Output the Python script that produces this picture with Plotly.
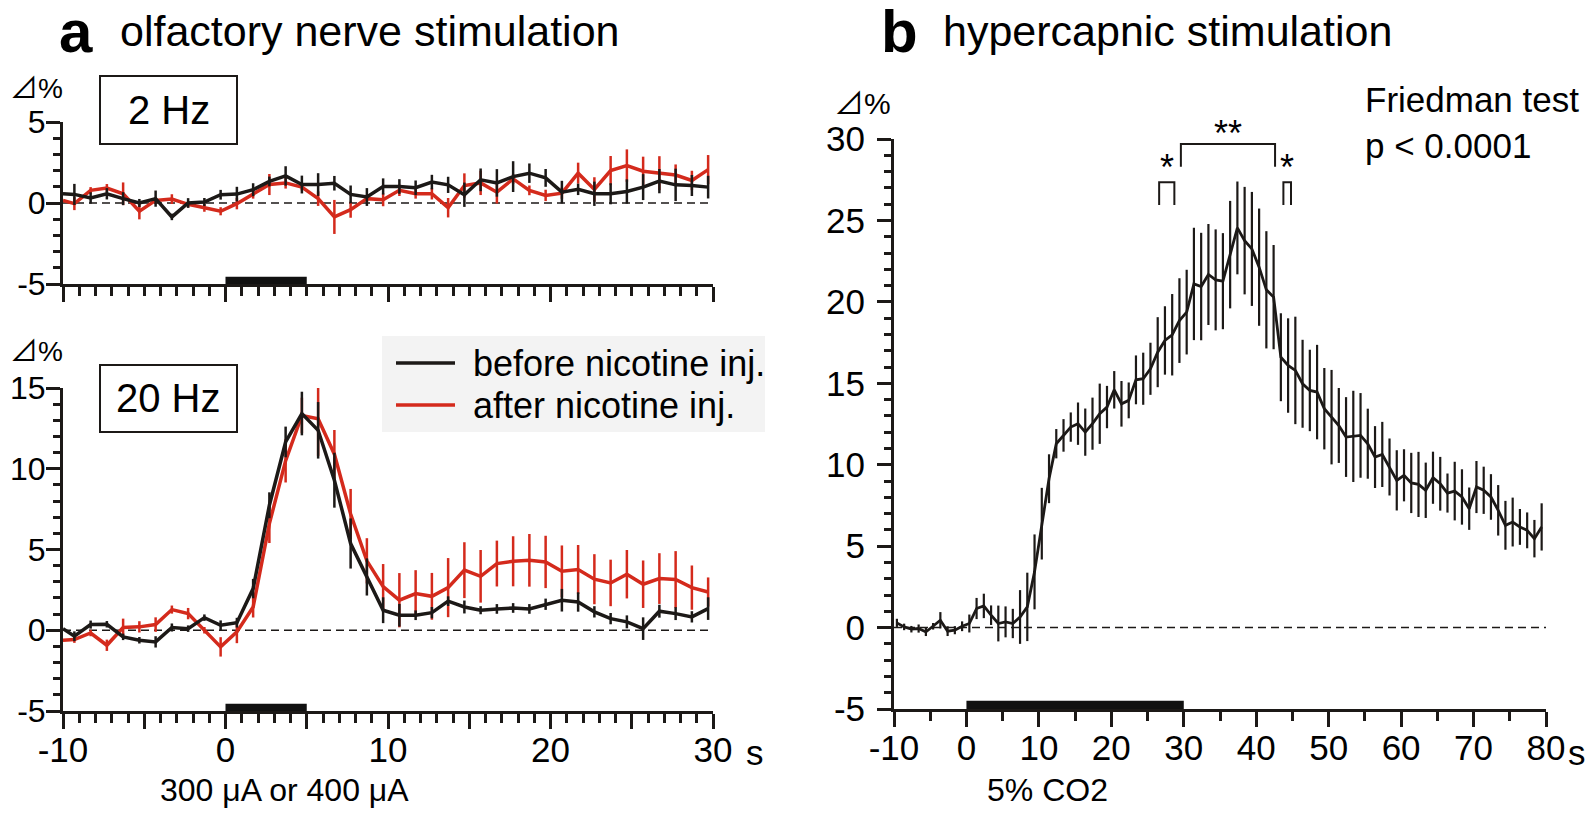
import numpy as np
import plotly.graph_objects as go

# the page adds an 8 px body margin, so the figure is 16 px smaller than the window
OFF = 8
W, H = 1594 - 2 * OFF, 816 - 2 * OFF
BLK = "#1c1917"
RED = "#d42a1c"
FONT = "Liberation Sans, Arial, DejaVu Sans, Noto Sans CJK JP"

# ---- data -------------------------------------------------------------
# panel a: olfactory nerve stimulation (first sample sits on the axis)
t_a = np.concatenate([[-10.0], np.arange(40) - 9.3])

hz2_before = [0.57, 0.53, 0.31, 0.57, 0.27, 0.0, 0.27, -0.86, 0.0, 0.06, 0.51,
              0.55, 0.82, 1.33, 1.67, 1.14, 1.14, 1.22, 0.53, 0.37, 1.02,
              1.02, 0.94, 1.29, 1.12, 0.51, 1.43, 1.24, 1.63, 1.84, 1.55,
              0.67, 0.84, 0.57, 0.57, 0.71, 0.98, 1.35, 1.12, 1.08, 0.98]
hz2_before_err = [0, 0.65, 0.35, 0.35, 0.4, 0.25, 0.5, 0.2, 0.3, 0.25, 0.3,
                  0.45, 0.4, 0.3, 0.6, 0.55, 0.7, 0.45, 0.55, 0.55, 0.5,
                  0.45, 0.45, 0.45, 0.5, 0.75, 0.7, 0.85, 0.95, 0.6, 0.55,
                  0.7, 0.35, 0.75, 0.65, 0.75, 0.8, 0.75, 1.0, 0.65, 0.7]
hz2_after = [0.16, -0.04, 0.78, 0.92, 0.57, -0.51, 0.16, 0.24, -0.08, -0.29, -0.51,
             -0.04, 0.57, 1.14, 1.24, 0.98, 0.27, -0.86, -0.41, 0.27, 0.2,
             0.78, 0.57, 0.57, -0.29, 1.08, 1.24, 0.67, 1.49, 0.78, 0.47,
             0.61, 1.84, 0.84, 2.0, 2.31, 1.96, 1.84, 1.73, 1.39, 2.06]
hz2_after_err = [0, 0.4, 0.2, 0.25, 0.7, 0.5, 0.2, 0.3, 0.2, 0.25, 0.25,
                 0.35, 0.3, 0.65, 0.35, 0.2, 0.45, 1.05, 0.5, 0.25, 0.4,
                 0.35, 0.3, 0.35, 0.6, 0.75, 0.75, 0.7, 0.3, 0.3, 0.35,
                 0.35, 0.65, 0.75, 0.9, 1.0, 0.9, 1.05, 0.65, 0.6, 0.9]

hz20_before = [0.1, -0.37, 0.35, 0.37, -0.41, -0.62, -0.72, 0.17, 0.10, 0.78, 0.31,
               0.47, 2.58, 7.74, 11.66, 13.42, 12.38, 9.29, 5.37, 3.3, 1.24,
               0.93, 0.93, 1.09, 1.8, 1.44, 1.24, 1.32, 1.38, 1.32, 1.61,
               1.86, 1.75, 1.14, 0.72, 0.52, 0.1, 1.18, 1.03, 0.83, 1.34]
hz20_before_err = [0, 0.3, 0.25, 0.2, 0.2, 0.2, 0.35, 0.25, 0.2, 0.2, 0.3,
                   0.3, 0.6, 0.8, 0.95, 1.35, 1.75, 1.7, 1.55, 1.15, 0.8,
                   0.7, 0.3, 0.35, 0.3, 0.4, 0.25, 0.3, 0.3, 0.3, 0.35,
                   0.7, 0.6, 0.35, 0.35, 0.4, 0.7, 0.4, 0.4, 0.35, 0.7]
hz20_after = [-0.62, -0.58, -0.17, -0.93, 0.17, 0.21, 0.35, 1.28, 1.03, 0.0, -1.03,
              -0.1, 1.44, 6.6, 10.5, 13.3, 13.1, 10.9, 7.2, 4.3, 2.7,
              1.86, 2.27, 2.1, 2.64, 3.72, 3.34, 4.13, 4.27, 4.33, 4.23,
              3.65, 3.76, 3.16, 2.93, 3.47, 2.85, 3.2, 3.14, 2.64, 2.37]
hz20_after_err = [0, 0.2, 0.2, 0.35, 0.55, 0.35, 0.45, 0.25, 0.35, 0.2, 0.6,
                  0.7, 0.65, 1.2, 1.35, 1.1, 2.3, 1.5, 1.55, 1.4, 1.4,
                  1.68, 1.45, 1.45, 1.83, 1.73, 1.63, 1.42, 1.55, 1.63, 1.62,
                  1.6, 1.52, 1.55, 1.44, 1.5, 1.47, 1.57, 1.76, 1.37, 0.9]

# panel b: hypercapnic stimulation
t_b = np.arange(90) - 9.6
co2 = [0.29, 0.04, -0.1, -0.06, -0.27, 0.08, 0.45, -0.22, -0.16, 0.08,
       0.25, 1.17, 1.33, 0.76, 0.25, 0.35, 0.25, 0.65, 1.27, 3.42,
       6.38, 9.14, 11.29, 11.8, 12.31, 12.52, 12.0, 12.52, 13.13, 13.54,
       14.6, 13.74, 13.95, 15.21, 15.28, 15.89, 16.91, 17.63, 17.98, 18.85,
       19.37, 21.1, 20.94, 21.68, 21.35, 21.27, 22.9, 24.54, 23.76, 23.25,
       22.13, 20.74, 20.29, 16.6, 16.09, 15.79, 14.97, 14.56, 14.46, 13.44,
       12.92, 12.41, 11.7, 11.74, 11.8, 11.29, 10.47, 10.63, 9.86, 9.04,
       9.35, 8.88, 8.79, 8.43, 9.2, 8.83, 8.26, 8.38, 8.02, 7.3,
       8.63, 8.43, 8.02, 7.2, 6.28, 6.48, 6.18, 5.97, 5.46, 6.18]
co2_err = [0.25, 0.2, 0.2, 0.25, 0.25, 0.2, 0.5, 0.3, 0.25, 0.3,
           0.55, 0.65, 0.75, 0.6, 1.1, 0.95, 0.9, 1.65, 2.1, 2.3,
           2.2, 1.5, 0.9, 1.0, 0.9, 1.3, 1.45, 1.6, 1.85, 1.3,
           1.15, 1.4, 1.1, 1.5, 1.6, 1.6, 2.15, 2.1, 2.5, 2.6,
           2.6, 3.45, 3.3, 3.1, 3.1, 2.95, 3.3, 2.85, 3.3, 3.5,
           3.6, 3.6, 3.2, 2.7, 2.9, 3.3, 2.7, 2.5, 2.9, 2.5,
           2.9, 2.3, 2.45, 2.8, 2.6, 2.15, 1.9, 2.0, 1.75, 1.85,
           1.6, 1.85, 2.0, 1.7, 1.6, 1.65, 1.2, 1.8, 1.7, 1.3,
           1.6, 1.45, 1.4, 1.55, 1.5, 1.5, 1.1, 1.1, 1.15, 1.45]

stim_a = [0, 5]       # stimulation period (s)
stim_b = [0, 30]      # 5% CO2 period (s)
sig_brackets = [(26.6, 28.7, 25.95, 27.35), (29.6, 42.6, 28.3, 29.7), (43.75, 44.8, 25.95, 27.35)]
sig_labels = [(27.65, 168, "*"), (36.1, 133, "**"), (44.3, 168, "*")]  # y in window px


def PX(x):
    return (x - OFF) / W


def PY(y):
    return 1 - (y - OFF) / H


def P(x, y):
    return PX(x), PY(y)


fig = go.Figure()


def series(t, y, e, color, xa, ya, lw=3.5, ew=2.5):
    fig.add_trace(go.Scatter(
        x=t, y=y, mode="lines", xaxis=xa, yaxis=ya, showlegend=False,
        line=dict(color=color, width=lw),
        error_y=dict(type="data", array=e, visible=True, width=0,
                     thickness=ew, color=color)))


series(t_a, hz2_after, hz2_after_err, RED, "x", "y")
series(t_a, hz2_before, hz2_before_err, BLK, "x", "y")
series(t_a, hz20_after, hz20_after_err, RED, "x2", "y2")
series(t_a, hz20_before, hz20_before_err, BLK, "x2", "y2")
series(t_b, co2, co2_err, BLK, "x3", "y3", lw=2.8, ew=2.2)

tick_font = dict(family=FONT, size=35, color="black")


def xaxis(dom, anchor, rng, major, minor, labels=True):
    vals = list(np.arange(rng[0], rng[1] + 0.01, major))
    text = [f"{v:g}" if v % 10 == 0 else "" for v in vals]
    return dict(domain=dom, anchor=anchor, range=rng, showgrid=False, zeroline=False,
                automargin=False, showline=True, linecolor=BLK, linewidth=3,
                ticks="outside", ticklen=15, tickwidth=3, tickcolor=BLK,
                tickmode="array", tickvals=vals, ticktext=text,
                showticklabels=labels, tickfont=tick_font, ticklabelstandoff=-9,
                minor=dict(ticks="outside", ticklen=9, tickwidth=2.5, tickcolor=BLK,
                           tickmode="linear", tick0=0, dtick=minor, showgrid=False))


def yaxis(dom, anchor, rng, standoff, size=35):
    vals = list(np.arange(rng[0], rng[1] + 0.01, 5))
    return dict(domain=dom, anchor=anchor, range=rng, showgrid=False, zeroline=False,
                automargin=False, showline=True, linecolor=BLK, linewidth=3,
                ticks="outside", ticklen=14, tickwidth=3, tickcolor=BLK,
                tickmode="array", tickvals=vals, ticktext=[f"{v:g}" for v in vals],
                tickfont=dict(family=FONT, size=size, color="black"), ticklabelstandoff=standoff,
                minor=dict(ticks="outside", ticklen=7, tickwidth=2.5, tickcolor=BLK,
                           tickmode="linear", tick0=0, dtick=1, showgrid=False))


xa_dom = [PX(63), PX(713)]
xb_dom = [PX(894), PX(1546)]
fig.update_layout(
    width=W, height=H, margin=dict(l=0, r=0, t=0, b=0, pad=0, autoexpand=False),
    paper_bgcolor="white", plot_bgcolor="rgba(0,0,0,0)",
    font=dict(family=FONT, color="black"), showlegend=False,
    xaxis=xaxis(xa_dom, "y", [-10, 30], 5, 1, labels=False),
    yaxis=yaxis([PY(284), PY(122)], "x", [-5, 5], -6, 32),
    xaxis2=xaxis(xa_dom, "y2", [-10, 30], 5, 1),
    yaxis2=yaxis([PY(711), PY(388)], "x2", [-5, 15], -6, 32),
    xaxis3=xaxis(xb_dom, "y3", [-10, 80], 10, 5),
    yaxis3=yaxis([PY(709), PY(139)], "x3", [-5, 30], 5),
)

shapes = []
# zero lines and stimulus bars
for xa, ya, rng, stim, h in [("x", "y", [-10, 30], stim_a, 0.45), ("x2", "y2", [-10, 30], stim_a, 0.45),
                             ("x3", "y3", [-10, 80], stim_b, 0.5)]:
    shapes.append(dict(type="line", xref=xa, yref=ya, x0=rng[0], x1=rng[1], y0=0, y1=0,
                       line=dict(color=BLK, width=1.6, dash="8px,5px"), layer="below"))
    shapes.append(dict(type="rect", xref=xa, yref=ya, x0=stim[0], x1=stim[1], y0=-5, y1=-5 + h,
                       fillcolor="#111111", line=dict(width=0)))
# significance brackets
for x0, x1, yb, yt in sig_brackets:
    shapes.append(dict(type="path", xref="x3", yref="y3",
                       path=f"M {x0},{yb} L {x0},{yt} L {x1},{yt} L {x1},{yb}",
                       line=dict(color=BLK, width=2)))
# frequency boxes
for (x0, y0, x1, y1) in [(100, 76, 237, 144), (100, 365, 237, 432)]:
    a0, b0 = P(x0, y0)
    a1, b1 = P(x1, y1)
    shapes.append(dict(type="rect", xref="paper", yref="paper", x0=a0, x1=a1, y0=b1, y1=b0,
                       line=dict(color=BLK, width=2)))
# legend background and samples
a0, b0 = P(382, 336)
a1, b1 = P(765, 432)
shapes.append(dict(type="rect", xref="paper", yref="paper", x0=a0, x1=a1, y0=b1, y1=b0,
                   fillcolor="#f3f3f3", line=dict(width=0), layer="below"))
for yy, c in [(363, BLK), (405, RED)]:
    a0, b0 = P(396, yy)
    a1, _ = P(455, yy)
    shapes.append(dict(type="line", xref="paper", yref="paper", x0=a0, x1=a1, y0=b0, y1=b0,
                       line=dict(color=c, width=3.5)))
fig.update_layout(shapes=shapes)

ann = []


def txt(x, y, s, size, xanchor="center", bold=False):
    a, b = P(x, y)
    ann.append(dict(x=a, y=b, xref="paper", yref="paper", text=f"<b>{s}</b>" if bold else s,
                    showarrow=False, xanchor=xanchor, yanchor="middle",
                    font=dict(family=FONT, size=size, color="black")))


DELTA = '<span style="font-family:Noto Sans CJK JP">⊿</span>%'
txt(76, 31, "a", 60, bold=True)
txt(118, 31, "olfactory nerve stimulation", 43, xanchor="left")
txt(899, 31, "b", 60, bold=True)
txt(941, 31, "hypercapnic stimulation", 43, xanchor="left")
txt(65, 86, DELTA, 28, xanchor="right")
txt(65, 349, DELTA, 28, xanchor="right")
txt(893, 101, DELTA, 30, xanchor="right")
txt(168.5, 110, "2 Hz", 40)
txt(168.5, 398.5, "20 Hz", 40)
txt(471, 363, "before nicotine inj.", 36, xanchor="left")
txt(471, 405, "after nicotine inj.", 36, xanchor="left")
txt(1363, 99, "Friedman test", 35, xanchor="left")
txt(1363, 145, "p < 0.0001", 35, xanchor="left")
txt(284, 790, "300 μA or 400 μA", 32)
txt(1047, 790, "5% CO2", 32)
txt(744, 752, "s", 35, xanchor="left")
txt(1566, 752, "s", 35, xanchor="left")
for x, y, s in sig_labels:
    ann.append(dict(x=x, y=PY(y), xref="x3", yref="paper", text=s, showarrow=False,
                    xanchor="center", yanchor="middle",
                    font=dict(family=FONT, size=36, color="black")))
fig.update_layout(annotations=ann)

fig.write_html("out.html")
